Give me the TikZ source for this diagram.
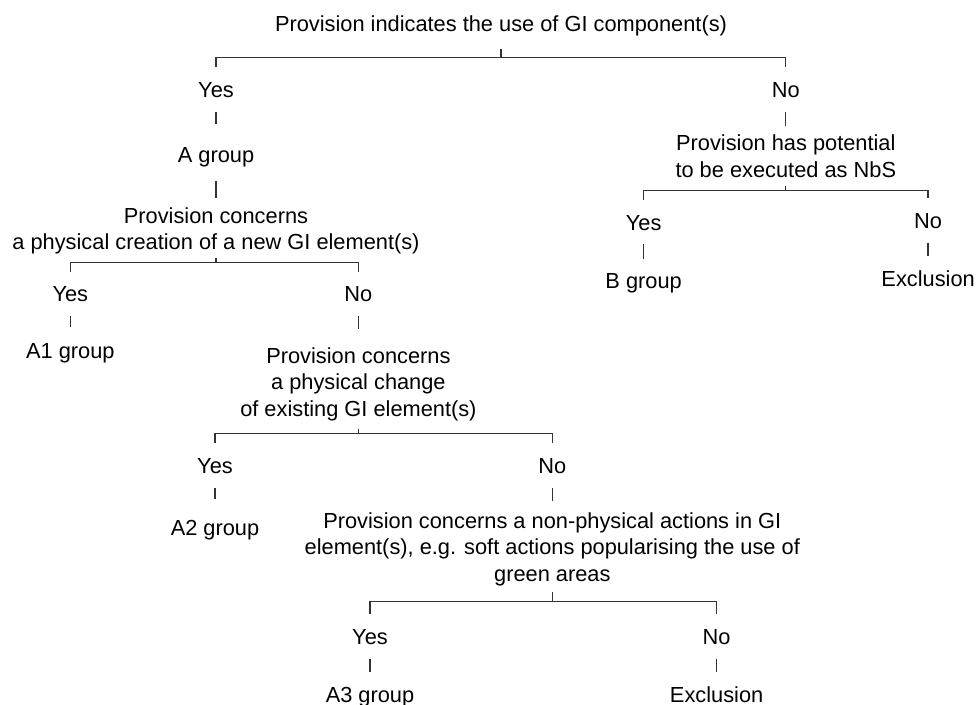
\documentclass[tikz,border=0pt]{standalone}
\usepackage{fontspec}
\setmainfont{Liberation Sans}
\usepackage{tikz}

\begin{document}
\begin{tikzpicture}[x=1pt,y=-1pt,line width=1.3pt,draw=black!80,
    txt node/.style={inner sep=0pt,align=center,font=\fontsize{21.8}{26.6}\selectfont},
    stub line/.style={to path={([yshift=-13.5pt]\tikztostart.south) -- ([yshift=#1]\tikztotarget.north)}},
    stub line/.default=14pt,
    fork line/.style 2 args={to path={([yshift=-#1]\tikztostart.south) |- ([yshift=#2]\tikztotarget.north) -- ([yshift=14.5pt]\tikztotarget.north)}}]
    \useasboundingbox (0,0) rectangle (976,704);
    % first question
    \node[txt node,anchor=base] (root) at (501,31.7) {Provision indicates the use of GI component(s)};
    \node[txt node,anchor=base] (yes_gi) at (216,97.3) {Yes};
    \node[txt node,anchor=base] (no_gi) at (785.8,97.3) {No};
    % left branch
    \node[txt node,anchor=base] (grp_a) at (216,162.3) {A group};
    \node[txt node,anchor=north] (crea) at (216,206.7) {Provision concerns\\a physical creation of a new GI element(s)};
    \node[txt node,anchor=base] (yes_crea) at (70.3,301.7) {Yes};
    \node[txt node,anchor=base] (no_crea) at (358.4,301.7) {No};
    \node[txt node,anchor=base] (grp_a1) at (70.3,358.3) {A1 group};
    \node[txt node,anchor=north] (chg) at (358.4,346.7) {Provision concerns\\a physical change\\of existing GI element(s)};
    \node[txt node,anchor=base] (yes_chg) at (215,473.3) {Yes};
    \node[txt node,anchor=base] (no_chg) at (552.3,473.3) {No};
    \node[txt node,anchor=base] (grp_a2) at (215,535) {A2 group};
    \node[txt node,anchor=north] (soft) at (552.3,511.7) {Provision concerns a non-physical actions in GI\\element(s), e.g. soft actions popularising the use of\\green areas};
    \node[txt node,anchor=base] (yes_soft) at (370,644.3) {Yes};
    \node[txt node,anchor=base] (no_soft) at (716.6,644.3) {No};
    \node[txt node,anchor=base] (grp_a3) at (370,702) {A3 group};
    \node[txt node,anchor=base] (excl_soft) at (716.6,702) {Exclusion};
    % right branch
    \node[txt node,anchor=north] (nbs) at (785.8,134.3) {Provision has potential\\to be executed as NbS};
    \node[txt node,anchor=base] (yes_nbs) at (643.6,230) {Yes};
    \node[txt node,anchor=base] (no_nbs) at (928.1,228.3) {No};
    \node[txt node,anchor=base] (grp_b) at (643.6,288.3) {B group};
    \node[txt node,anchor=base] (excl_nbs) at (928.1,286.7) {Exclusion};
    \path[draw]
    (root) edge [fork line={12pt}{24pt}] (yes_gi)
    (root) edge [fork line={12pt}{24pt}] (no_gi)
    (yes_gi) edge [stub line=22.3pt] (grp_a)
    (grp_a) edge [stub line=8.4pt] (crea)
    (crea) edge [fork line={3.1pt}{23.3pt}] (yes_crea)
    (crea) edge [fork line={3.1pt}{23.3pt}] (no_crea)
    (yes_crea) edge [stub line=15.7pt] (grp_a1)
    (no_crea) edge [stub line=17.4pt] (chg)
    (chg) edge [fork line={7.1pt}{24pt}] (yes_chg)
    (chg) edge [fork line={7.1pt}{24pt}] (no_chg)
    (yes_chg) edge [stub line=20pt] (grp_a2)
    (no_chg) edge [stub line=10.7pt] (soft)
    (soft) edge [fork line={5.4pt}{27.3pt}] (yes_soft)
    (soft) edge [fork line={5.4pt}{27.3pt}] (no_soft)
    (yes_soft) edge [stub line] (grp_a3)
    (no_soft) edge [stub line] (excl_soft)
    (no_gi) edge [stub line=8.3pt] (nbs)
    (nbs) edge [fork line={7.4pt}{24pt}] (yes_nbs)
    (nbs) edge [fork line={7.4pt}{22.3pt}] (no_nbs)
    (yes_nbs) edge [stub line] (grp_b)
    (no_nbs) edge [stub line] (excl_nbs)
    ;
\end{tikzpicture}
\end{document}
